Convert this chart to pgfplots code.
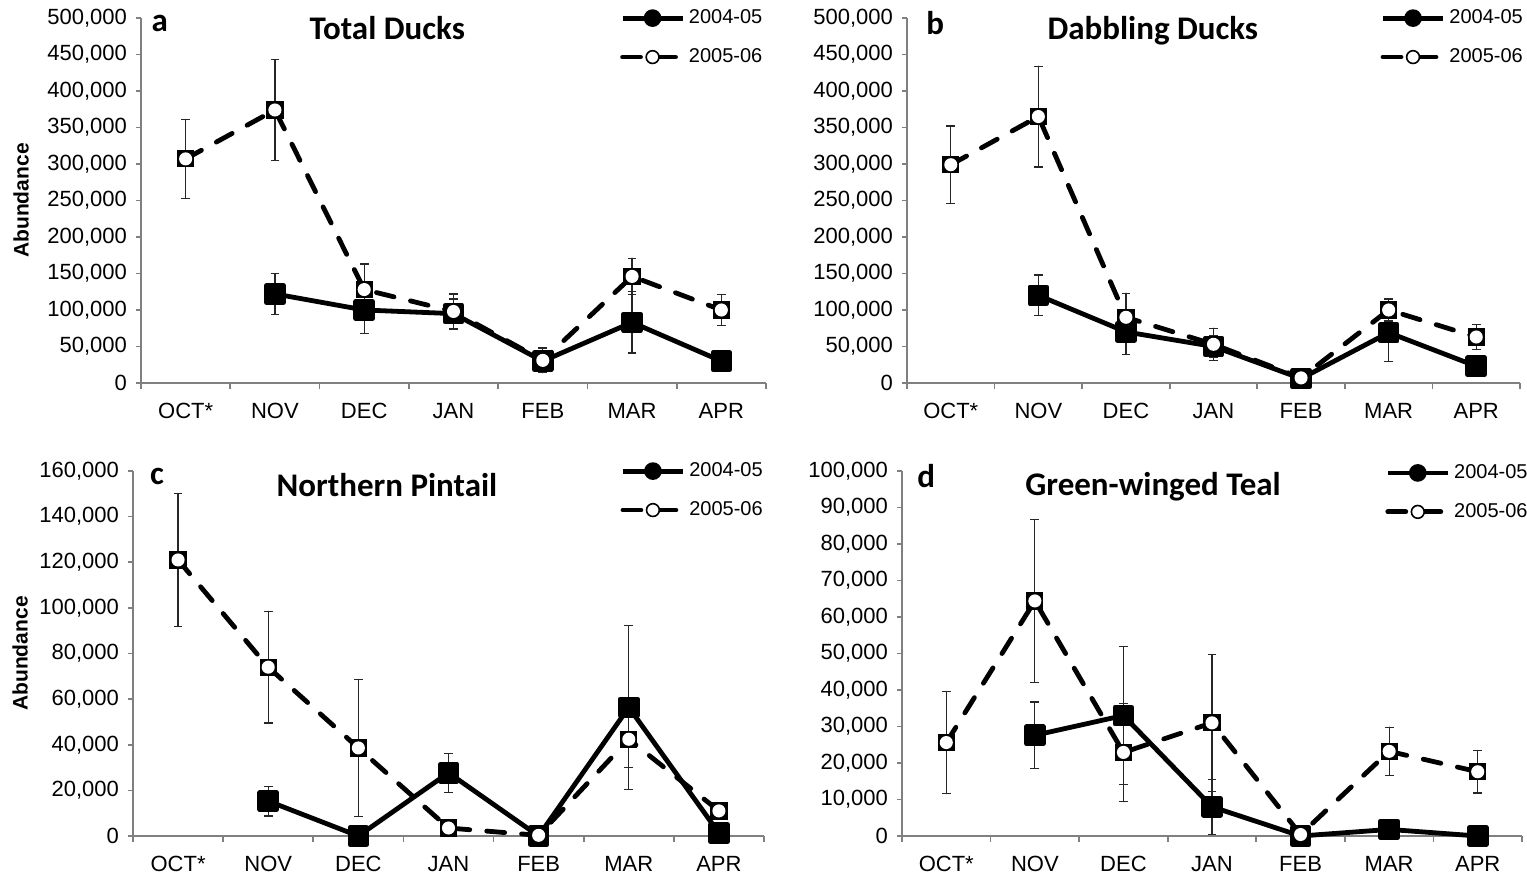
\documentclass[border=0pt]{standalone}
\usepackage{fontspec}
\setmainfont{Liberation Sans}
\newfontfamily\calibri{Carlito}
\usepackage{pgfplots}
\pgfplotsset{compat=1.18}

\pgfdeclareplotmark{sqcirc}{%
 \begin{pgfscope}%
 \pgfsetfillcolor{black}%
 \pgfpathrectangle{\pgfqpoint{-\pgfplotmarksize}{-\pgfplotmarksize}}{\pgfqpoint{2\pgfplotmarksize}{2\pgfplotmarksize}}%
 \pgfusepathqfill
 \end{pgfscope}%
 \begin{pgfscope}%
 \pgfsetfillcolor{white}%
 \pgfpathcircle{\pgfpointorigin}{0.76\pgfplotmarksize}%
 \pgfusepathqfill
 \end{pgfscope}}

\tikzset{ttl/.style={font=\calibri\bfseries\fontsize{16.5}{18}\selectfont}}
\pgfplotsset{
 duck/.style={
  scale only axis, clip=false,
  axis lines*=left,
  axis line style={draw=black!50, line width=0.9pt},
  xmin=0.5, xmax=7.5, ymin=0,
  xtick={1,2,3,4,5,6,7},
  xticklabels={OCT*,NOV,DEC,JAN,FEB,MAR,APR},
  major x tick style={draw=none},
  minor xtick={0.5,1.5,2.5,3.5,4.5,5.5,6.5,7.5},
  minor tick length=3pt, major tick length=2.5pt,
  tick align=outside,
  every tick/.style={draw=black!50, line width=0.8pt},
  ticklabel style={font=\fontsize{11}{13}\selectfont},
  scaled y ticks=false,
  /pgf/number format/fixed, /pgf/number format/1000 sep={,}, /pgf/number format/assume math mode=true,
  xticklabel style={yshift=-4pt},
  yticklabel style={xshift=-1pt},
  y label style={font=\bfseries\fontsize{10.5}{12}\selectfont, anchor=center},
  legend style={draw=none, fill=none, anchor=north west, font=\fontsize{10}{12}\selectfont, row sep=7pt, inner sep=0pt, cells={anchor=west}},
  legend image code/.code={\draw[mark repeat=2,mark phase=2,#1] plot coordinates {(0pt,0pt) (15pt,0pt) (30pt,0pt)};},
 },
 sA/.style={black, line width=2.4pt, line join=round, mark=square*, mark size=4.2pt, mark options={solid}, forget plot,
  error bars/y dir=both, error bars/y explicit,
  error bars/error bar style={line width=0.6pt, black!85, solid},
  error bars/error mark options={rotate=90, mark size=2.2pt, line width=0.6pt, black!85, solid}},
 sB/.style={black, line width=2.4pt, dash pattern=on 9pt off 8.5pt, line cap=round, line join=round, mark=sqcirc, mark size=4.3pt, mark options={solid, fill=black}, forget plot,
  error bars/y dir=both, error bars/y explicit,
  error bars/error bar style={line width=0.6pt, black!85, solid},
  error bars/error mark options={rotate=90, mark size=2.2pt, line width=0.6pt, black!85, solid}},
}
\newcommand{\legs}{%
 \addlegendimage{black, line width=2.4pt, mark=*, mark size=3.2pt, mark options={solid}}
 \addlegendentry{2004-05}
 \addlegendimage{black, line width=2.4pt, dash pattern=on 9pt off 8.5pt, line cap=round, mark=*, mark size=3.2pt, mark options={solid, fill=white, line width=0.8pt}}
 \addlegendentry{2005-06}}

\begin{document}
\begin{tikzpicture}
\useasboundingbox (0,0) rectangle (763.5pt,439pt);
% ---- a
\begin{axis}[duck, at={(70.5pt,247.5pt)}, anchor=south west, width=312.5pt, height=182.5pt,
  ymax=500000, ytick={0,50000,100000,150000,200000,250000,300000,350000,400000,450000,500000},
  ylabel={Abundance}, y label style={at={(axis description cs:-0.192,0.5)}},
  legend style={at={(axis description cs:0.766,1.035)}}]
\legs
\addplot[sA] coordinates {(2,122000) +- (0,28000) (3,100000) +- (0,32000) (4,95000) +- (0,20000) (5,30000) +- (0,8000) (6,83000) +- (0,42000) (7,30000) +- (0,5000)};
\addplot[sB] coordinates {(1,307000) +- (0,54000) (2,374000) +- (0,69000) (3,128000) +- (0,35000) (4,98000) +- (0,24000) (5,31000) +- (0,17000) (6,146000) +- (0,25000) (7,100000) +- (0,21000)};
\node[ttl] at (axis description cs:0.394,0.973) {Total Ducks};
\node[ttl] at (axis description cs:0.030,0.985) {a};
\end{axis}
% ---- b
\begin{axis}[duck, at={(453.5pt,247.5pt)}, anchor=south west, width=306.5pt, height=182.5pt,
  ymax=500000, ytick={0,50000,100000,150000,200000,250000,300000,350000,400000,450000,500000},
  legend style={at={(axis description cs:0.772,1.035)}}]
\legs
\addplot[sA] coordinates {(2,120000) +- (0,28000) (3,70000) +- (0,31000) (4,50000) +- (0,15000) (5,6000) +- (0,2000) (6,69000) +- (0,40000) (7,23000) +- (0,3000)};
\addplot[sB] coordinates {(1,299000) +- (0,53000) (2,365000) +- (0,69000) (3,90000) +- (0,33000) (4,53000) +- (0,22000) (5,7000) +- (0,3000) (6,100000) +- (0,15000) (7,63000) +- (0,17000)};
\node[ttl] at (axis description cs:0.401,0.965) {Dabbling Ducks};
\node[ttl] at (axis description cs:0.046,0.985) {b};
\end{axis}
% ---- c
\begin{axis}[duck, at={(66.5pt,21pt)}, anchor=south west, width=315.5pt, height=182.5pt,
  ymax=160000, ytick={0,20000,40000,60000,80000,100000,120000,140000,160000},
  ylabel={Abundance}, y label style={at={(axis description cs:-0.179,0.5)}},
  legend style={at={(axis description cs:0.772,1.035)}}]
\legs
\addplot[sA] coordinates {(2,15300) +- (0,6500) (3,0) +- (0,0) (4,27700) +- (0,8500) (5,0) +- (0,0) (6,56400) +- (0,36000) (7,1300) +- (0,1000)};
\addplot[sB] coordinates {(1,121000) +- (0,29000) (2,74000) +- (0,24500) (3,38600) +- (0,30000) (4,3500) +- (0,2000) (5,300) +- (0,300) (6,42400) +- (0,12400) (7,11000) +- (0,2000)};
\node[ttl] at (axis description cs:0.4025,0.962) {Northern Pintail};
\node[ttl] at (axis description cs:0.038,0.985) {c};
\end{axis}
% ---- d
\begin{axis}[duck, at={(451pt,21pt)}, anchor=south west, width=310pt, height=182.5pt,
  ymax=100000, ytick={0,10000,20000,30000,40000,50000,60000,70000,80000,90000,100000},
  legend style={at={(axis description cs:0.779,1.03)}}]
\legs
\addplot[sA] coordinates {(2,27600) +- (0,9100) (3,33000) +- (0,19000) (4,8000) +- (0,7500) (5,0) +- (0,0) (6,1800) +- (0,500) (7,0) +- (0,0)};
\addplot[sB] coordinates {(1,25600) +- (0,14000) (2,64400) +- (0,22300) (3,22900) +- (0,13500) (4,31000) +- (0,18700) (5,400) +- (0,400) (6,23200) +- (0,6600) (7,17600) +- (0,5800)};
\node[ttl] at (axis description cs:0.405,0.956) {Green-winged Teal};
\node[ttl] at (axis description cs:0.039,0.985) {d};
\end{axis}
\end{tikzpicture}
\end{document}
